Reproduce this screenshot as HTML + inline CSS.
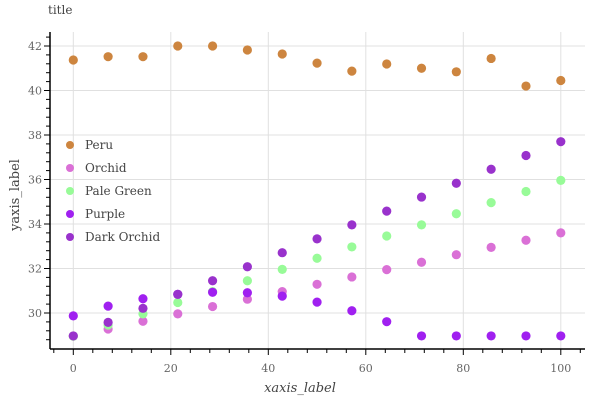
<!DOCTYPE html>
<html><head><meta charset="utf-8">
<style>
body{margin:0;background:#fff;}
svg{display:block;font-family:"DejaVu Serif","Liberation Serif",serif;}
</style></head>
<body>
<svg id="chart" width="589" height="400" viewBox="0 0 589 400">
<text x="48" y="14" font-size="12" fill="#444">title</text>
<g id="grid"></g>
<g id="axes"></g>
<g id="marks"></g>
<g id="legend"></g>
<text x="300" y="392" font-size="13" font-style="italic" fill="#444" text-anchor="middle">xaxis_label</text>
<text transform="translate(19,195) rotate(-90)" font-size="13" fill="#444" text-anchor="middle">yaxis_label</text>
</svg>
<script>
const xValues=[0,7.14,14.29,21.43,28.57,35.71,42.86,50,57.14,64.29,71.43,78.57,85.71,92.86,100];
const peru=[41.37,41.52,41.52,42.0,42.0,41.82,41.64,41.23,40.87,41.19,41.0,40.84,41.44,40.2,40.45];
const orchid=[28.96,29.28,29.63,29.96,30.29,30.62,30.96,31.29,31.62,31.95,32.28,32.62,32.95,33.27,33.6];
const paleGreen=[28.96,29.46,29.96,30.47,30.96,31.45,31.96,32.46,32.97,33.46,33.96,34.46,34.96,35.46,35.96];
const purple=[29.87,30.31,30.64,30.84,30.93,30.91,30.76,30.49,30.1,29.61,28.97,28.97,28.97,28.97,28.97];
const darkOrchid=[28.97,29.58,30.21,30.84,31.45,32.08,32.71,33.33,33.96,34.58,35.21,35.83,36.46,37.08,37.7];
const seriesNames=["Peru","Orchid","Pale Green","Purple","Dark Orchid"];
const seriesColors=["#CD853F","#DA70D6","#98FB98","#A020F0","#9932CC"];
const xTicks=[0,20,40,60,80,100];
const yTicks=[30,32,34,36,38,40,42];

const NS="http://www.w3.org/2000/svg";
const X0=50,X1=585,Y0=32,Y1=349;
function sx(v){return 73.3+v*4.875;}
function sy(v){return 46+(42-v)*22.25;}
function mk(tag,attrs,parent){const e=document.createElementNS(NS,tag);for(const k in attrs)e.setAttribute(k,attrs[k]);parent.appendChild(e);return e;}
const grid=document.getElementById('grid'),axes=document.getElementById('axes'),marks=document.getElementById('marks'),legend=document.getElementById('legend');

xTicks.forEach(t=>{
  const l=mk('line',{x1:sx(t),x2:sx(t),y1:Y0,y2:Y1,stroke:'#e0e0e0','stroke-width':1},grid);
  
  
  const tx=mk('text',{x:sx(t),y:Y1+23,'font-size':11,fill:'#666','text-anchor':'middle'},axes);
  tx.textContent=t;
  
  
});
yTicks.forEach(t=>{
  const l=mk('line',{x1:X0,x2:X1,y1:sy(t),y2:sy(t),stroke:'#e0e0e0','stroke-width':1},grid);
  
  
  const tx=mk('text',{x:X0-8,y:sy(t)+4,'font-size':11,fill:'#666','text-anchor':'end'},axes);
  tx.textContent=t;
  
  
});
for(let v=-4;v<=104;v+=4){
  const maj=v%20===0;
  const l=mk('line',{x1:sx(v),x2:sx(v),y1:Y1,y2:Y1+(maj?6:4),stroke:'#000','stroke-width':1},axes);
  
  
}
for(let v=28.8;v<=42.9;v+=0.4){
  const r=Math.round(v*10)/10;
  if(sy(r)<Y0||sy(r)>Y1)continue;
  const maj=Math.abs(r-Math.round(r))<0.01&&Math.round(r)%2===0;
  const l=mk('line',{x1:X0-(maj?6:4),x2:X0,y1:sy(r),y2:sy(r),stroke:'#000','stroke-width':1},axes);
  
  
}
const xa=mk('line',{x1:X0,x2:X1,y1:Y1,y2:Y1,stroke:'#000','stroke-width':1.5},axes);


const ya=mk('line',{x1:X0,x2:X0,y1:Y0,y2:Y1,stroke:'#000','stroke-width':1.5},axes);



const allSeries=[peru,orchid,paleGreen,purple,darkOrchid];
allSeries.forEach((s,si)=>{
  s.forEach((v,i)=>{
    const c=mk('circle',{cx:sx(xValues[i]),cy:sy(v),r:4.6,fill:seriesColors[si]},marks);
    
    
  });
  const ly=145+si*23;
  const d=mk('circle',{cx:70,cy:ly,r:4,fill:seriesColors[si]},legend);
  
  
  const t=mk('text',{x:85,y:ly+4,'font-size':12,fill:'#444'},legend);
  t.textContent=seriesNames[si];
  
  
});
</script>
</body></html>
